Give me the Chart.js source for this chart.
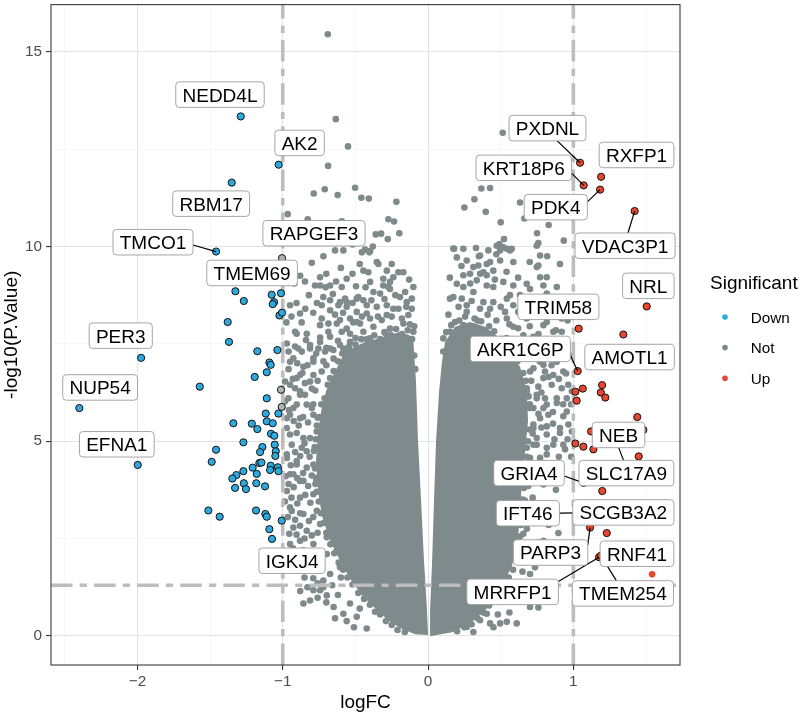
<!DOCTYPE html>
<html lang="en">
<head>
    <meta charset="UTF-8">
    <title>Volcano plot</title>
    <script src="https://cdn.jsdelivr.net/npm/chart.js"></script>
    <style>
        html, body { margin: 0; padding: 0; background: #ffffff; }
        #wrap { width: 800px; height: 714px; }
    </style>
</head>
<body>
    <div id="wrap"><canvas id="volcano" width="800" height="714"></canvas></div>
    <script>
        // values: [logFC, -log10(P.Value)]
        const upPoints = [
            [1.046, 12.15], [1.191, 11.79], [1.071, 11.57], [1.184, 11.46], [1.422, 10.91], [1.505, 8.46],
            [1.037, 7.89], [1.344, 7.74], [1.03, 6.80], [1.065, 6.35], [1.014, 6.27], [1.198, 6.44],
            [1.189, 6.25], [1.220, 6.12], [1.023, 6.04], [1.440, 5.62], [1.122, 5.25], [1.482, 5.29],
            [1.014, 4.94], [1.069, 4.86], [1.138, 4.79], [1.450, 4.61], [1.199, 3.72], [1.115, 2.78],
            [1.230, 2.64], [1.177, 2.02], [1.30, 4.95], [1.07, 3.93], [1.046, 3.16], [1.30, 2.10], [1.19, 2.06]
        ];
        const upPlainPoints = [[1.542, 1.58]];

        const downPoints = [
            [-1.289, 13.34], [-1.028, 12.10], [-1.351, 11.64], [-1.459, 9.87],
            [-1.326, 8.85], [-1.268, 8.60], [-1.076, 8.76], [-1.012, 8.80], [-1.060, 8.57], [-1.069, 8.52],
            [-1.023, 8.23], [-1.005, 8.30], [-1.379, 8.06], [-1.370, 7.55], [-1.175, 7.31], [-1.037, 7.34],
            [-1.975, 7.14], [-1.092, 7.02], [-1.083, 6.96], [-1.110, 6.77], [-1.193, 6.65], [-1.571, 6.40],
            [-2.400, 5.85], [-1.110, 6.10], [-1.117, 5.71], [-1.030, 5.71], [-1.340, 5.46], [-1.213, 5.45],
            [-1.175, 5.31], [-1.110, 5.51], [-1.069, 5.46], [-1.081, 5.19], [-1.058, 5.14], [-1.271, 4.97],
            [-1.055, 4.91], [-1.140, 4.85], [-1.459, 4.78], [-1.156, 4.72], [-1.048, 4.74], [-1.051, 4.62],
            [-1.489, 4.47], [-1.161, 4.44], [-1.147, 4.45], [-1.207, 4.32], [-1.083, 4.37], [-1.034, 4.33],
            [-1.998, 4.39], [-1.087, 4.26], [-1.030, 4.23], [-1.271, 4.23], [-1.319, 4.13], [-1.347, 4.04],
            [-1.179, 4.16], [-1.268, 3.92], [-1.182, 3.92], [-1.328, 3.80], [-1.253, 3.77], [-1.122, 3.84],
            [-1.512, 3.22], [-1.434, 3.06], [-1.184, 3.22], [-1.120, 3.13], [-1.110, 3.06], [-1.007, 2.96],
            [-1.092, 2.74], [-1.074, 2.49]
        ];

        // grey points on the cut line that carry an outline
        const taggedNotPoints = [[-1.005, 9.70], [-1.012, 6.32], [-1.007, 5.88]];

        const notPoints = [
            // sparse top
            [-0.690, 15.45], [-0.635, 13.27], [-0.551, 12.57], [-0.688, 12.07], [-0.787, 11.36], [-0.711, 11.47],
            [-0.622, 11.32], [-0.502, 11.51], [-0.459, 11.25], [-0.408, 11.23], [-0.218, 11.15], [-0.966, 10.83],
            [-0.828, 10.70], [-0.594, 10.65], [-0.273, 10.70], [-0.234, 10.64], [-0.360, 10.31], [-0.323, 10.33],
            [-0.277, 10.19], [-0.198, 10.34],
            [0.514, 12.92], [0.367, 11.49], [0.427, 11.50], [0.319, 11.21], [0.250, 11.00], [0.397, 10.89],
            [0.633, 11.13], [0.500, 10.62], [0.663, 10.72], [0.830, 10.55], [0.750, 10.34], [0.934, 10.15],
            [0.523, 10.19],
            [-0.640, 9.90], [-0.583, 9.90], [-0.434, 9.92], [-0.399, 9.88],
            [0.179, 9.94], [0.243, 9.94], [0.330, 9.96], [0.491, 10.06], [0.518, 9.98], [0.542, 9.94],
            [0.415, 9.90], [0.759, 10.09], [0.576, 9.94],
            // left side, upper half
            [-0.800, 9.58], [-0.847, 9.10], [-0.743, 9.21], [-0.743, 9.00], [-0.674, 9.00], [-0.633, 9.10],
            [-0.560, 9.17], [-0.496, 8.98], [-0.445, 9.38], [-0.411, 9.34], [-0.353, 9.60], [-0.284, 9.38],
            [-0.239, 9.21], [-0.204, 9.34], [-0.170, 9.34], [-0.308, 9.00], [-0.273, 8.96], [-0.376, 8.83],
            [-0.950, 8.49], [-0.732, 8.49], [-0.674, 8.62], [-0.606, 8.57], [-0.560, 8.57], [-0.491, 8.66],
            [-0.445, 8.62], [-0.422, 8.49], [-0.193, 8.70], [-0.147, 8.57], [-0.284, 8.49], [-0.239, 8.40],
            [-0.112, 8.40], [-0.732, 8.15], [-0.686, 8.02], [-0.606, 8.11], [-0.537, 8.15], [-0.468, 8.02],
            [-0.399, 8.15], [-0.904, 7.76], [-0.835, 7.76], [-0.743, 7.66], [-0.674, 7.68], [-0.594, 7.81],
            [-0.537, 7.76], [-0.915, 7.43], [-0.869, 7.30], [-0.812, 7.38], [-0.755, 7.38], [-0.709, 7.30],
            [-0.652, 7.34], [-0.583, 7.38], [-0.789, 7.04], [-0.858, 6.91], [-0.927, 7.13], [-0.904, 6.62],
            [-0.847, 6.49], [-0.789, 6.70], [-0.732, 6.79], [-0.950, 6.45], [-0.881, 6.28], [-0.961, 6.10],
            [-0.904, 5.94], [-0.847, 6.19], [-0.950, 5.68], [-0.881, 5.59], [-0.800, 5.85], [-0.972, 5.34],
            [-0.904, 5.21], [-0.938, 4.91], [-0.869, 4.83], [-0.972, 4.57], [-0.904, 4.40], [-0.812, 5.08],
            [-0.950, 4.15], [-0.881, 3.98], [-0.972, 3.72], [-0.835, 4.32],
            [-0.456, 9.85], [-0.404, 9.85], [-0.342, 9.55], [-0.778, 9.00], [-0.594, 8.96], [-0.399, 9.09],
            [-0.308, 9.17], [-0.262, 9.09], [-0.101, 8.96], [-0.721, 8.70], [-0.571, 8.66], [-0.480, 8.70],
            [-0.330, 8.79], [-0.262, 8.91], [-0.158, 8.83], [-0.112, 8.66], [-0.674, 8.36], [-0.617, 8.49],
            [-0.560, 8.45], [-0.491, 8.32], [-0.422, 8.28], [-0.353, 8.45], [-0.284, 8.24], [-0.204, 8.40],
            [-0.136, 8.24], [-0.881, 8.28], [-0.915, 7.81], [-0.743, 7.98], [-0.686, 7.81], [-0.628, 8.02],
            [-0.560, 7.89], [-0.491, 8.06], [-0.445, 7.81], [-0.376, 7.94], [-0.319, 8.11], [-0.262, 7.89],
            [-0.170, 8.02], [-0.101, 7.81], [-0.972, 7.51], [-0.893, 7.38], [-0.812, 7.47], [-0.743, 7.55],
            [-0.674, 7.38], [-0.606, 7.47], [-0.537, 7.55], [-0.468, 7.38], [-0.399, 7.64], [-0.330, 7.51],
            [-0.239, 7.43], [-0.136, 7.47], [-0.950, 7.04], [-0.789, 7.13], [-0.881, 6.70], [-0.984, 6.53],
            [-0.915, 6.36], [-0.812, 6.53], [-0.674, 6.62], [-0.881, 6.19], [-0.927, 5.85], [-0.835, 5.94],
            [-0.972, 5.59], [-0.789, 5.68], [-0.950, 5.17], [-0.858, 5.08], [-0.766, 5.25],
            [-0.975, 8.05], [-0.940, 8.20], [-0.905, 8.55], [-0.870, 8.05], [-0.845, 8.40], [-0.820, 8.75],
            [-0.790, 8.30], [-0.765, 8.55], [-0.705, 8.95], [-0.655, 8.78], [-0.640, 8.25], [-0.585, 8.30],
            [-0.520, 8.55], [-0.515, 8.05], [-0.455, 8.20], [-0.430, 8.95], [-0.390, 8.62], [-0.345, 8.20],
            [-0.300, 8.65], [-0.250, 8.20], [-0.225, 8.75], [-0.180, 8.15], [-0.150, 8.45], [-0.125, 8.00],
            [-0.095, 7.95], [-0.200, 7.70], [-0.290, 7.75], [-0.420, 7.62], [-0.500, 7.65], [-0.560, 7.35],
            [-0.620, 7.58], [-0.650, 7.12], [-0.700, 7.40], [-0.880, 9.25], [-0.920, 9.05], [-0.700, 9.30],
            [-0.600, 9.45], [-0.520, 9.30], [-0.470, 9.55], [-0.250, 9.55], [-0.130, 9.15], [-0.380, 10.00],
            [-0.520, 10.05], [-0.720, 9.75],
            [-0.960, 6.85], [-0.930, 6.60], [-0.900, 7.00], [-0.865, 6.75], [-0.830, 6.95], [-0.800, 6.35],
            [-0.760, 6.55], [-0.720, 7.05], [-0.700, 6.95], [-0.770, 7.25], [-0.840, 7.60], [-0.960, 7.30],
            // along the rim of the dense left lobe
            [-0.690, 6.45], [-0.712, 6.10], [-0.735, 5.95], [-0.748, 5.62], [-0.765, 5.40], [-0.772, 5.05],
            [-0.785, 4.75], [-0.778, 4.30], [-0.770, 4.00], [-0.765, 3.70], [-0.752, 3.45], [-0.738, 3.15],
            [-0.718, 2.90], [-0.700, 2.65], [-0.672, 2.35], [-0.645, 2.12], [-0.615, 1.88], [-0.585, 1.70],
            [-0.555, 1.50], [-0.520, 1.32], [-0.480, 1.10], [-0.440, 0.95], [-0.400, 0.80], [-0.365, 0.62],
            [-0.330, 0.55], [-0.290, 0.38], [-0.250, 0.28], [-0.210, 0.15], [-0.160, 0.10],
            [-0.650, 6.80], [-0.620, 7.05], [-0.590, 7.25], [-0.545, 7.42], [-0.500, 7.48], [-0.460, 7.62],
            [-0.410, 7.58], [-0.370, 7.72], [-0.330, 7.62], [-0.300, 7.80], [-0.255, 7.72], [-0.220, 7.88],
            [-0.180, 7.75], [-0.140, 7.85], [-0.110, 7.62], [-0.095, 7.20], [-0.088, 6.85],
            // left side, lower half
            [-0.972, 4.66], [-0.904, 4.49], [-0.835, 4.74], [-0.789, 4.40], [-0.721, 4.66], [-0.927, 4.15],
            [-0.858, 3.98], [-0.766, 4.06], [-0.697, 4.23], [-0.881, 3.55], [-0.789, 3.64], [-0.697, 3.72],
            [-0.950, 3.30], [-0.858, 3.13], [-0.766, 3.21], [-0.674, 3.30], [-0.927, 2.78], [-0.835, 2.70],
            [-0.743, 2.87], [-0.652, 2.96], [-0.881, 2.44], [-0.789, 2.36], [-0.697, 2.53], [-0.628, 2.62],
            [-0.766, 2.02], [-0.697, 2.10], [-0.628, 2.19], [-0.606, 1.76], [-0.674, 1.59], [-0.721, 1.25],
            [-0.789, 1.17], [-0.812, 0.91], [-0.858, 0.83], [-0.583, 0.57], [-0.422, 0.19], [-0.537, 0.83],
            [-0.491, 0.49], [-0.938, 3.21], [-0.881, 2.83], [-0.950, 2.36], [-0.721, 1.42], [-0.743, 1.17],
            [-0.697, 1.04],
            [-0.985, 6.02], [-0.958, 5.80], [-0.925, 5.52], [-0.890, 5.40], [-0.860, 5.62], [-0.826, 5.48],
            [-0.790, 5.95], [-0.776, 6.30], [-0.760, 5.60], [-0.745, 5.05], [-0.780, 4.85], [-0.815, 4.60],
            [-0.850, 4.95], [-0.880, 4.62], [-0.915, 4.72], [-0.945, 4.38], [-0.980, 4.10], [-0.960, 3.90],
            [-0.925, 3.82], [-0.900, 4.05], [-0.860, 4.18], [-0.825, 3.85], [-0.800, 4.12], [-0.775, 3.90],
            [-0.810, 3.42], [-0.845, 3.62], [-0.900, 3.40], [-0.940, 3.55], [-0.985, 3.45], [-0.965, 3.05],
            [-0.915, 2.98], [-0.880, 3.15], [-0.820, 2.95], [-0.790, 3.05], [-0.760, 2.65], [-0.800, 2.58],
            [-0.850, 2.50], [-0.905, 2.60], [-0.955, 2.62], [-0.930, 2.25], [-0.860, 2.20], [-0.825, 2.12],
            [-0.780, 1.95], [-0.740, 1.80], [-0.820, 1.82], [-0.870, 1.95], [-0.900, 1.70], [-0.850, 1.50],
            [-0.790, 1.48], [-0.760, 1.35], [-0.830, 1.25], [-0.880, 1.15], [-0.760, 0.98], [-0.700, 0.86],
            [-0.650, 0.74], [-0.620, 1.05], [-0.660, 1.30], [-0.640, 0.45], [-0.560, 0.38], [-0.510, 0.22],
            [-0.470, 0.70], [-0.600, 1.50],
            // right side
            [0.198, 9.72], [0.358, 9.77], [0.427, 9.60], [0.312, 9.47], [0.243, 9.26], [0.289, 9.30],
            [0.381, 9.34], [0.198, 9.04], [0.243, 8.96], [0.335, 9.13], [0.404, 9.00], [0.679, 9.04],
            [0.771, 9.21], [0.794, 9.00], [0.748, 9.47], [0.564, 8.75], [0.151, 8.66], [0.266, 8.49],
            [0.381, 8.57], [0.427, 8.40], [0.656, 8.24], [0.748, 8.40], [0.542, 8.15], [0.105, 7.64],
            [0.151, 7.81], [0.243, 7.98], [0.656, 7.72], [0.725, 7.47], [0.794, 7.98], [0.771, 7.04],
            [0.702, 6.79], [0.794, 6.62], [0.610, 6.45], [0.679, 6.28], [0.748, 6.10], [0.794, 5.85],
            [0.587, 5.76], [0.656, 5.51], [0.725, 5.34], [0.771, 5.59], [0.610, 5.08], [0.679, 4.83],
            [0.748, 4.91], [0.771, 4.57], [0.702, 4.32], [0.794, 3.89],
            [0.174, 9.95], [0.266, 9.64], [0.473, 10.02], [0.496, 9.90], [0.564, 9.90], [0.346, 9.51],
            [0.404, 9.55], [0.449, 9.38], [0.404, 9.26], [0.496, 9.64], [0.587, 9.60], [0.358, 9.30],
            [0.771, 9.77], [0.759, 9.51], [0.817, 9.21], [0.748, 10.02], [0.174, 8.70], [0.232, 8.66],
            [0.312, 8.83], [0.449, 8.96], [0.518, 9.09], [0.587, 9.00], [0.633, 8.75], [0.702, 8.91],
            [0.587, 8.49], [0.186, 8.06], [0.266, 8.32], [0.358, 8.40], [0.449, 8.57], [0.542, 8.66],
            [0.621, 8.32], [0.679, 8.15], [0.817, 8.06], [0.862, 7.81], [0.920, 8.15], [0.633, 7.55],
            [0.725, 7.30], [0.794, 6.96], [0.862, 6.70], [0.931, 6.79], [0.679, 6.36], [0.748, 6.19],
            [0.817, 5.94], [0.886, 6.10], [0.955, 5.76], [0.99, 6.28], [0.99, 5.25], [0.725, 5.43],
            [0.817, 5.17], [0.908, 5.34], [0.633, 5.08], [0.725, 4.91], [0.817, 4.83], [0.931, 4.91],
            [0.908, 9.55], [0.886, 8.96], [0.817, 8.79], [0.931, 8.57], [0.530, 8.32], [0.587, 7.94],
            [0.725, 7.68], [0.794, 7.55], [0.862, 7.60], [0.920, 7.81], [0.943, 7.51], [0.817, 7.21],
            [0.886, 7.04], [0.950, 6.74], [0.805, 6.79], [0.725, 6.87], [0.851, 6.45], [0.920, 6.36],
            [0.759, 6.40], [0.955, 6.10], [0.886, 5.98], [0.805, 6.10], [0.725, 5.85], [0.828, 5.68],
            [0.931, 5.64], [0.966, 5.43], [0.908, 5.21], [0.817, 5.38], [0.748, 5.08], [0.862, 4.91],
            [0.943, 4.79], [0.817, 4.66], [0.771, 4.40], [0.702, 4.57],
            [0.633, 4.23], [0.599, 3.72], [0.668, 3.47], [0.619, 3.08],
            [0.897, 2.64], [0.794, 2.44], [0.702, 2.27], [0.736, 1.76], [0.702, 1.59], [0.679, 1.34],
            [0.702, 0.74], [0.759, 0.73], [0.633, 0.91], [0.587, 1.08], [0.656, 2.62],
            [0.449, 2.96], [0.496, 2.70], [0.564, 2.44], [0.587, 2.87], [0.473, 2.19], [0.542, 2.10],
            [0.449, 1.68], [0.518, 1.51], [0.381, 1.17], [0.449, 1.00], [0.335, 0.74], [0.404, 0.57],
            [0.427, 0.32], [0.496, 0.32], [0.542, 0.36], [0.610, 0.32], [0.358, 0.40], [0.266, 0.23],
            [0.312, 0.10],
            [0.700, 7.95], [0.760, 7.75], [0.835, 7.35], [0.880, 7.85], [0.960, 8.10], [0.975, 7.20],
            [0.900, 7.30], [0.850, 6.95], [0.760, 7.10], [0.710, 6.55], [0.780, 6.25], [0.830, 6.65],
            [0.900, 6.60], [0.965, 6.45], [0.985, 5.95], [0.930, 5.95], [0.860, 5.75], [0.760, 5.70],
            [0.700, 5.95], [0.720, 5.20], [0.780, 5.35], [0.860, 5.45], [0.870, 5.05], [0.960, 5.05],
            [0.985, 4.60], [0.900, 4.60], [0.840, 4.35], [0.740, 4.20], [0.690, 3.85], [0.760, 3.95],
            [0.830, 4.05], [0.880, 3.75], [0.720, 3.55], [0.780, 3.40], [0.700, 3.10], [0.750, 2.95],
            [0.680, 2.75], [0.830, 2.85], [0.760, 2.40], [0.690, 2.00], [0.650, 1.65], [0.620, 1.35],
            [0.560, 1.25], [0.560, 0.60], [0.480, 0.55], [0.450, 0.22],
            [0.150, 9.20], [0.210, 8.45], [0.300, 8.60], [0.340, 8.10], [0.410, 8.25], [0.470, 8.10],
            [0.500, 8.45], [0.560, 8.00], [0.620, 7.90], [0.600, 7.55], [0.540, 7.65], [0.140, 8.25],
            [0.230, 9.50], [0.290, 9.05], [0.350, 9.75], [0.460, 9.15], [0.540, 9.35], [0.620, 9.20],
            [0.650, 8.60], [0.700, 9.60], [0.820, 9.75], [0.850, 8.35], [0.700, 8.45], [0.470, 9.80],
            // along the rim of the dense right lobe
            [0.105, 7.30], [0.125, 7.80], [0.160, 7.98], [0.215, 8.10], [0.255, 8.20], [0.320, 8.15],
            [0.365, 8.08], [0.420, 7.95], [0.455, 7.82], [0.510, 7.62], [0.540, 7.45], [0.590, 7.25],
            [0.615, 7.05], [0.655, 6.75], [0.672, 6.55], [0.692, 6.15],
            [0.700, 5.85], [0.698, 5.30], [0.688, 5.00], [0.678, 4.60], [0.668, 4.30], [0.660, 3.80],
            [0.652, 3.50], [0.645, 3.15], [0.640, 2.85], [0.632, 2.55], [0.620, 2.25], [0.600, 2.00],
            [0.585, 1.70], [0.555, 1.50], [0.525, 1.30], [0.490, 1.05], [0.455, 0.92], [0.420, 0.78],
            [0.380, 0.60], [0.340, 0.45], [0.300, 0.30], [0.250, 0.22], [0.200, 0.12]
        ];

        // outline of the solid part of the cloud, where single points merge
        const coreLeftOutline = [
            [-0.674, 6.53], [-0.571, 7.30], [-0.434, 7.55], [-0.296, 7.68], [-0.193, 7.81], [-0.103, 7.68],
            [-0.083, 6.53], [-0.069, 5.00], [-0.048, 3.47], [-0.028, 1.93], [-0.007, 0.66], [0.000, 0.02],
            [-0.089, 0.04], [-0.193, 0.20], [-0.275, 0.40], [-0.365, 0.71], [-0.454, 1.04], [-0.537, 1.47],
            [-0.606, 1.93], [-0.674, 2.44], [-0.730, 3.08], [-0.757, 3.72], [-0.771, 4.49], [-0.757, 5.25],
            [-0.730, 5.89], [-0.702, 6.28]
        ];
        const coreRightOutline = [
            [0.117, 7.55], [0.186, 7.94], [0.289, 8.06], [0.392, 7.94], [0.482, 7.68], [0.564, 7.30],
            [0.633, 6.91], [0.681, 6.28], [0.688, 5.51], [0.668, 4.74], [0.647, 3.98], [0.633, 3.21],
            [0.619, 2.44], [0.578, 1.80], [0.496, 1.17], [0.406, 0.71], [0.289, 0.32], [0.165, 0.09],
            [0.014, -0.01], [0.014, 0.66], [0.028, 1.93], [0.041, 3.47], [0.055, 5.00], [0.076, 6.28],
            [0.096, 7.04]
        ];

        const logFcCut = 1;
        const pValueCut = 1.30;

        const xMajorTicks = [-2, -1, 0, 1];
        const xTickLabels = ['\u22122', '\u22121', '0', '1'];
        const xMinorTicks = [-2.5, -1.5, -0.5, 0.5, 1.5];
        const yMajorTicks = [0, 5, 10, 15];
        const yTickLabels = ['0', '5', '10', '15'];
        const yMinorTicks = [2.5, 7.5, 12.5];

        const geneLabels = ['NEDD4L', 'AK2', 'RBM17', 'RAPGEF3', 'TMCO1', 'TMEM69', 'PER3', 'NUP54', 'EFNA1', 'IGKJ4',
            'PXDNL', 'RXFP1', 'KRT18P6', 'PDK4', 'VDAC3P1', 'NRL', 'TRIM58', 'AKR1C6P', 'AMOTL1', 'NEB',
            'SLC17A9', 'GRIA4', 'IFT46', 'SCGB3A2', 'PARP3', 'RNF41', 'MRRFP1', 'TMEM254'];
        const genePoints = [[-1.289, 13.34], [-1.028, 12.10], [-1.351, 11.64], [-0.966, 10.83], [-1.459, 9.87],
            [-1.005, 9.70], [-1.975, 7.14], [-2.400, 5.85], [-1.998, 4.39], [-1.074, 2.49],
            [1.046, 12.15], [1.191, 11.79], [1.071, 11.57], [1.184, 11.46], [1.422, 10.91], [1.505, 8.46],
            [1.037, 7.89], [1.03, 6.80], [1.344, 7.74], [1.482, 5.29], [1.30, 4.95], [1.07, 3.93],
            [1.046, 3.16], [1.230, 2.64], [1.115, 2.78], [1.30, 2.10], [1.177, 2.02], [1.19, 2.06]];
        // where the repelled label boxes ended up
        const labelSpots = [[-1.432, 13.90], [-0.884, 12.66], [-1.493, 11.10], [-0.785, 10.34], [-1.893, 10.11],
            [-1.211, 9.32], [-2.115, 7.71], [-2.257, 6.38], [-2.142, 4.92], [-0.936, 1.93],
            [0.822, 13.04], [1.435, 12.35], [0.659, 12.02], [0.879, 11.01], [1.356, 10.02], [1.516, 8.99],
            [0.897, 8.45], [0.635, 7.37], [1.387, 7.16], [1.311, 5.16], [1.365, 4.18], [0.695, 4.18],
            [0.687, 3.15], [1.344, 3.17], [0.843, 2.14], [1.438, 2.11], [0.582, 1.13], [1.341, 1.09]];

        const legendGroups = ['Down', 'Not', 'Up'];

        const FONT = "'Liberation Sans', Arial, Helvetica, sans-serif";
        const COL_DOWN = '#2DA9DF';
        const COL_NOT = '#7F8A8C';
        const COL_UP = '#E9462F';
        const groupColors = { Down: COL_DOWN, Not: COL_NOT, Up: COL_UP };
        const NOT_INDEX = 4;

        const toXY = arr => arr.map(p => ({ x: p[0], y: p[1] }));
        const isMajor = (list, v) => list.some(t => Math.abs(t - v) < 1e-9);

        function gridOpts(majors) {
            return {
                color: c => isMajor(majors, c.tick.value) ? '#e3e3e3' : '#f1f1f1',
                lineWidth: c => isMajor(majors, c.tick.value) ? 1.1 : 0.6,
                tickColor: c => isMajor(majors, c.tick.value) ? '#333333' : 'rgba(0,0,0,0)',
                tickLength: 5,
                drawTicks: true
            };
        }

        function boxPath(ctx, l, t, w, h, r) {
            ctx.beginPath();
            ctx.moveTo(l + r, t);
            ctx.lineTo(l + w - r, t);
            ctx.arcTo(l + w, t, l + w, t + r, r);
            ctx.lineTo(l + w, t + h - r);
            ctx.arcTo(l + w, t + h, l + w - r, t + h, r);
            ctx.lineTo(l + r, t + h);
            ctx.arcTo(l, t + h, l, t + h - r, r);
            ctx.lineTo(l, t + r);
            ctx.arcTo(l, t, l + r, t, r);
            ctx.closePath();
        }

        const volcanoExtras = {
            id: 'volcanoExtras',
            beforeDatasetsDraw(chart) {
                const { ctx, chartArea: a, scales: { x, y } } = chart;
                ctx.save();
                ctx.beginPath();
                ctx.rect(a.left, a.top, a.width, a.height);
                ctx.clip();
                ctx.fillStyle = COL_NOT;
                [coreLeftOutline, coreRightOutline].forEach(shape => {
                    ctx.beginPath();
                    shape.forEach((p, i) => {
                        const px = x.getPixelForValue(p[0]);
                        const py = y.getPixelForValue(p[1]);
                        if (i === 0) ctx.moveTo(px, py); else ctx.lineTo(px, py);
                    });
                    ctx.closePath();
                    ctx.fill();
                });
                ctx.restore();
            },
            afterDatasetDraw(chart, args) {
                if (args.index !== NOT_INDEX) return;
                const { ctx, chartArea: a, scales: { x, y } } = chart;
                ctx.save();
                ctx.beginPath();
                ctx.rect(a.left, a.top, a.width, a.height);
                ctx.clip();
                ctx.strokeStyle = '#BDBDBD';
                ctx.lineWidth = 3.6;
                ctx.lineCap = 'butt';
                ctx.setLineDash([21.5, 7.2, 7.2, 7.2]);
                [-logFcCut, logFcCut].forEach(v => {
                    const px = x.getPixelForValue(v);
                    ctx.beginPath();
                    ctx.moveTo(px, a.bottom);
                    ctx.lineTo(px, a.top);
                    ctx.stroke();
                });
                const py = y.getPixelForValue(pValueCut);
                ctx.beginPath();
                ctx.moveTo(a.left, py);
                ctx.lineTo(a.right, py);
                ctx.stroke();
                ctx.restore();
            },
            afterDatasetsDraw(chart) {
                const { ctx, chartArea: a, scales: { x, y } } = chart;
                ctx.save();
                ctx.font = `19px ${FONT}`;
                const boxes = geneLabels.map((g, i) => {
                    const w = ctx.measureText(g).width + 13.5;
                    const h = 25.5;
                    const cx = x.getPixelForValue(labelSpots[i][0]);
                    const cy = y.getPixelForValue(labelSpots[i][1]);
                    return {
                        g, cx, cy, w, h,
                        l: cx - w / 2, r: cx + w / 2, t: cy - h / 2, b: cy + h / 2,
                        px: x.getPixelForValue(genePoints[i][0]),
                        py: y.getPixelForValue(genePoints[i][1])
                    };
                });

                // leader segments go under the boxes
                ctx.strokeStyle = '#000000';
                ctx.lineWidth = 1.2;
                boxes.forEach(b => {
                    const gx = Math.max(b.l - b.px, 0, b.px - b.r);
                    const gy = Math.max(b.t - b.py, 0, b.py - b.b);
                    if (Math.hypot(gx, gy) < 9.9) return;
                    let ex, ey;
                    if (b.px > b.r || b.px < b.l) {
                        ex = b.px > b.r ? b.r : b.l;
                        ey = Math.min(b.b, Math.max(b.t, b.cy + 0.3 * (b.py - b.cy)));
                    } else {
                        ey = b.py > b.b ? b.b : b.t;
                        ex = Math.min(b.r, Math.max(b.l, b.cx + 0.3 * (b.px - b.cx)));
                    }
                    ctx.beginPath();
                    ctx.moveTo(ex, ey);
                    ctx.lineTo(b.px, b.py);
                    ctx.stroke();
                });

                ctx.textAlign = 'center';
                ctx.textBaseline = 'alphabetic';
                boxes.forEach(b => {
                    boxPath(ctx, b.l, b.t, b.w, b.h, 3.5);
                    ctx.fillStyle = '#ffffff';
                    ctx.fill();
                    ctx.strokeStyle = '#9c9c9c';
                    ctx.lineWidth = 0.9;
                    ctx.stroke();
                    ctx.fillStyle = '#000000';
                    ctx.fillText(b.g, b.cx, b.cy + 6.9);
                });

                ctx.strokeStyle = '#3a3a3a';
                ctx.lineWidth = 1.1;
                ctx.strokeRect(a.left, a.top, a.right - a.left, a.bottom - a.top);
                ctx.restore();
            },
            afterDraw(chart) {
                const { ctx, chartArea: a } = chart;
                const lx = a.right + 30;
                ctx.save();
                ctx.fillStyle = '#000000';
                ctx.textAlign = 'left';
                ctx.textBaseline = 'alphabetic';
                ctx.font = `19px ${FONT}`;
                ctx.fillText('Significant', lx, 289.3);
                ctx.font = `15.3px ${FONT}`;
                legendGroups.forEach((g, i) => {
                    const base = 322.7 + i * 30.6;
                    ctx.fillStyle = groupColors[g];
                    ctx.beginPath();
                    ctx.arc(lx + 15, base - 5.7, 2.8, 0, Math.PI * 2);
                    ctx.fill();
                    ctx.fillStyle = '#000000';
                    ctx.fillText(g, lx + 40.7, base);
                });
                ctx.restore();
            }
        };

        const outlined = (color, pts) => ({
            data: toXY(pts),
            backgroundColor: color,
            borderColor: '#111111',
            borderWidth: 1,
            pointRadius: 3.6,
            pointHoverRadius: 3.6
        });

        new Chart(document.getElementById('volcano'), {
            type: 'scatter',
            data: {
                datasets: [
                    Object.assign({ label: 'Up' }, outlined(COL_UP, upPoints)),
                    { label: 'Up', data: toXY(upPlainPoints), backgroundColor: COL_UP, borderWidth: 0, pointRadius: 3.3 },
                    Object.assign({ label: 'Down' }, outlined(COL_DOWN, downPoints)),
                    Object.assign({ label: 'Not' }, outlined('#A9B7BC', taggedNotPoints)),
                    { label: 'Not', data: toXY(notPoints), backgroundColor: COL_NOT, borderWidth: 0, pointRadius: 3.3, pointHoverRadius: 3.3 }
                ]
            },
            options: {
                responsive: false,
                animation: false,
                events: [],
                layout: { padding: { left: 0, top: 1, right: 120, bottom: 0 } },
                plugins: {
                    legend: { display: false },
                    tooltip: { enabled: false }
                },
                scales: {
                    x: {
                        type: 'linear',
                        min: -2.595,
                        max: 1.734,
                        afterBuildTicks: s => {
                            s.ticks = xMinorTicks.concat(xMajorTicks).sort((p, q) => p - q).map(v => ({ value: v }));
                        },
                        afterFit: s => { s.height = 49; s.paddingLeft = 0; s.paddingRight = 0; },
                        grid: gridOpts(xMajorTicks),
                        border: { display: false },
                        ticks: {
                            autoSkip: false,
                            maxRotation: 0,
                            padding: 3,
                            color: '#4d4d4d',
                            font: { family: FONT, size: 15.3 },
                            callback: v => {
                                const i = xMajorTicks.indexOf(v);
                                return i >= 0 ? xTickLabels[i] : '';
                            }
                        },
                        title: { display: true, text: 'logFC', color: '#000000', padding: 0, font: { family: FONT, size: 19 } }
                    },
                    y: {
                        type: 'linear',
                        min: -0.748,
                        max: 16.212,
                        afterBuildTicks: s => {
                            s.ticks = yMinorTicks.concat(yMajorTicks).sort((p, q) => p - q).map(v => ({ value: v }));
                        },
                        afterFit: s => { s.width = 51; s.paddingTop = 0; s.paddingBottom = 0; },
                        grid: gridOpts(yMajorTicks),
                        border: { display: false },
                        ticks: {
                            autoSkip: false,
                            padding: 4,
                            color: '#4d4d4d',
                            font: { family: FONT, size: 15.3 },
                            callback: v => {
                                const i = yMajorTicks.indexOf(v);
                                return i >= 0 ? yTickLabels[i] : '';
                            }
                        },
                        title: { display: true, text: '-log10(P.Value)', color: '#000000', padding: 0, font: { family: FONT, size: 19 } }
                    }
                }
            },
            plugins: [volcanoExtras]
        });
    </script>
</body>
</html>
